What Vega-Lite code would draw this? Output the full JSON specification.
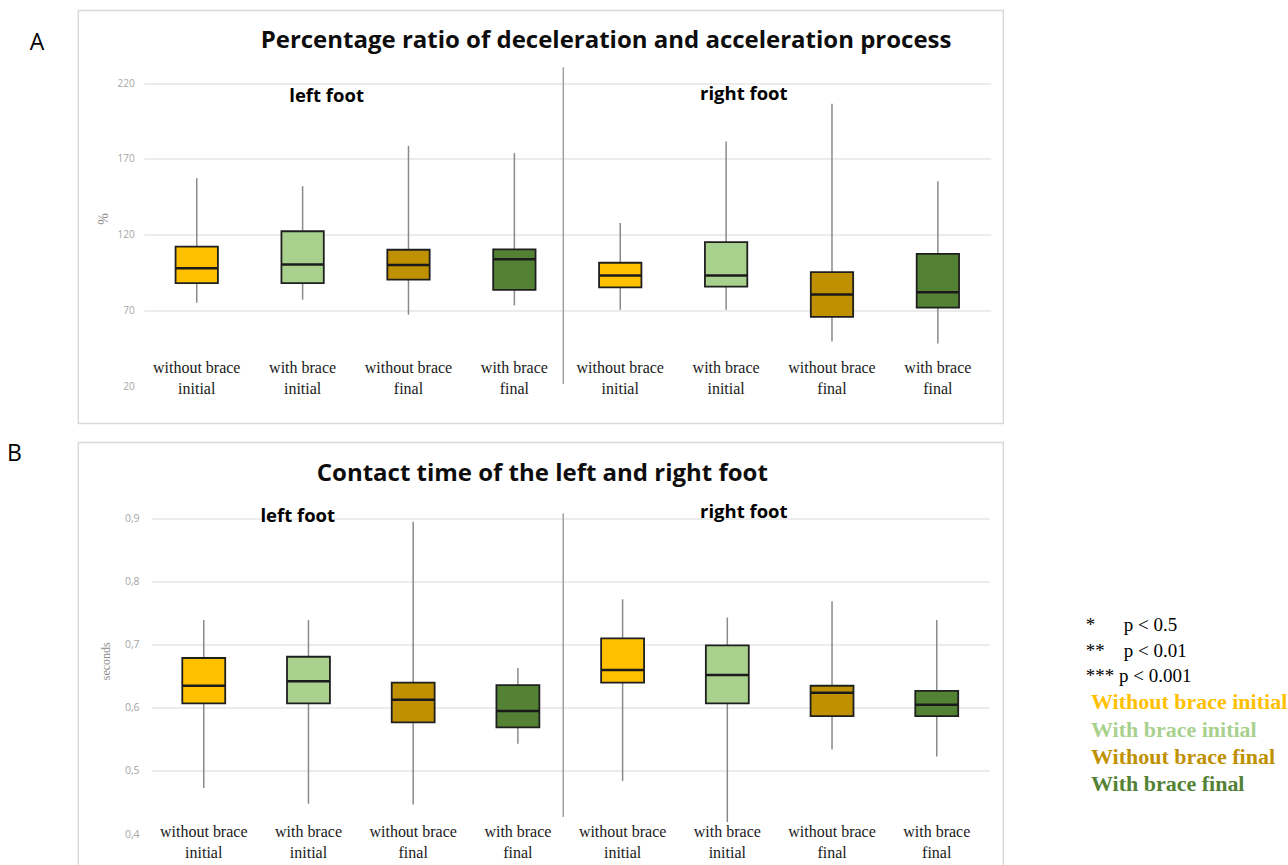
{
  "$schema": "https://vega.github.io/schema/vega-lite/v6.json",
  "background": "white",
  "padding": {"left": 6.3, "top": 9.5, "right": 0, "bottom": 0},
  "spacing": 17,
  "config": {"view": {"stroke": "#d9d9d9", "strokeWidth": 1.5}},
  "datasets": {
    "accel": [
      {"key": "L|without brace|initial", "group": "Without brace initial", "min": 75, "q1": 87.9, "median": 97.8, "q3": 112.1, "max": 157.3},
      {"key": "L|with brace|initial", "group": "With brace initial", "min": 77, "q1": 87.9, "median": 100.3, "q3": 122.2, "max": 152},
      {"key": "L|without brace|final", "group": "Without brace final", "min": 67.1, "q1": 90.2, "median": 100, "q3": 110, "max": 178.6},
      {"key": "L|with brace|final", "group": "With brace final", "min": 73.2, "q1": 83.5, "median": 103.8, "q3": 110.2, "max": 173.8},
      {"key": "R|without brace|initial", "group": "Without brace initial", "min": 70.4, "q1": 85.1, "median": 93, "q3": 101.4, "max": 127.7},
      {"key": "R|with brace|initial", "group": "With brace initial", "min": 70.4, "q1": 85.7, "median": 93, "q3": 115, "max": 181.5},
      {"key": "R|without brace|final", "group": "Without brace final", "min": 49.4, "q1": 65.7, "median": 80.4, "q3": 95.2, "max": 206.4},
      {"key": "R|with brace|final", "group": "With brace final", "min": 48, "q1": 71.8, "median": 82, "q3": 107.3, "max": 155.3}
    ],
    "contact": [
      {"key": "L|without brace|initial", "group": "Without brace initial", "min": 0.473, "q1": 0.607, "median": 0.635, "q3": 0.679, "max": 0.739},
      {"key": "L|with brace|initial", "group": "With brace initial", "min": 0.448, "q1": 0.607, "median": 0.642, "q3": 0.681, "max": 0.739},
      {"key": "L|without brace|final", "group": "Without brace final", "min": 0.447, "q1": 0.577, "median": 0.613, "q3": 0.64, "max": 0.895},
      {"key": "L|with brace|final", "group": "With brace final", "min": 0.543, "q1": 0.569, "median": 0.595, "q3": 0.636, "max": 0.663},
      {"key": "R|without brace|initial", "group": "Without brace initial", "min": 0.484, "q1": 0.64, "median": 0.66, "q3": 0.71, "max": 0.772},
      {"key": "R|with brace|initial", "group": "With brace initial", "min": 0.419, "q1": 0.607, "median": 0.652, "q3": 0.699, "max": 0.743},
      {"key": "R|without brace|final", "group": "Without brace final", "min": 0.534, "q1": 0.587, "median": 0.624, "q3": 0.635, "max": 0.769},
      {"key": "R|with brace|final", "group": "With brace final", "min": 0.523, "q1": 0.587, "median": 0.605, "q3": 0.627, "max": 0.739}
    ]
  },
  "resolve": {"scale": {"x": "independent", "y": "independent", "color": "independent"}},
  "vconcat": [
    {
      "width": 925,
      "height": 413,
      "data": {"name": "accel"},
      "layer": [
        {
          "mark": {"type": "rule", "color": "#8a8a8a", "strokeWidth": 1.5},
          "encoding": {
            "x": {
              "field": "key", "type": "nominal",
              "scale": {"domain": ["L|without brace|initial", "L|with brace|initial", "L|without brace|final", "L|with brace|final", "R|without brace|initial", "R|with brace|initial", "R|without brace|final", "R|with brace|final"], "range": [65.5, 912.5], "paddingInner": 0, "paddingOuter": 0},
              "axis": {"title": null, "domain": false, "ticks": false, "grid": false, "labelAngle": 0, "labelExpr": "slice(split(datum.value, '|'), 1)", "labelPadding": -64.3, "labelBaseline": "top", "labelFont": "Liberation Serif", "labelFontSize": 16, "labelColor": "#1a1a1a", "labelLineHeight": 21}
            },
            "y": {
              "field": "min", "type": "quantitative",
              "scale": {"domain": [20, 220], "range": [375.5, 72.7], "nice": false, "zero": false},
              "axis": {"title": "%", "values": [20, 70, 120, 170, 220], "offset": -65.5, "domain": false, "ticks": false, "labelPadding": 9.7, "labelFont": "Open Sans", "labelFontSize": 10, "labelColor": "#a6a6a6", "grid": true, "gridColor": "#d9d9d9", "gridWidth": 1, "gridOpacity": {"condition": {"test": "datum.value <= 20", "value": 0}, "value": 1}, "titleFont": "Liberation Serif", "titleFontSize": 14, "titleFontWeight": "normal", "titleColor": "#8c8c8c", "titleX": -40, "titleY": 208, "titleBaseline": "middle", "titleAngle": -90}
            },
            "y2": {"field": "max"}
          }
        },
        {
          "mark": {"type": "bar", "stroke": "#1f1f1f", "strokeWidth": 1.8, "width": {"band": 0.4}},
          "encoding": {
            "x": {"field": "key", "type": "nominal"},
            "y": {"field": "q1", "type": "quantitative"},
            "y2": {"field": "q3"},
            "color": {"field": "group", "type": "nominal", "scale": {"domain": ["Without brace initial", "With brace initial", "Without brace final", "With brace final"], "range": ["#FFC000", "#A9D18E", "#BF9000", "#548235"]}, "legend": null}
          }
        },
        {
          "mark": {"type": "tick", "color": "#1a1a1a", "thickness": 2.5, "size": 42, "opacity": 1},
          "encoding": {
            "x": {"field": "key", "type": "nominal"},
            "y": {"field": "median", "type": "quantitative"}
          }
        },
        {
          "data": {"values": [{"note": "separator"}]},
          "mark": {"type": "rule", "color": "#a0a0a0", "strokeWidth": 1.5, "xOffset": -4},
          "encoding": {
            "x": {"datum": "R|without brace|initial", "type": "nominal", "bandPosition": 0},
            "y": {"datum": 230.6},
            "y2": {"datum": 21.3}
          }
        },
        {
          "data": {"values": [{"note": "Percentage ratio of deceleration and acceleration process"}]},
          "mark": {"type": "text", "font": "Open Sans", "fontWeight": "bold", "fontSize": 24, "color": "#0d0d0d", "baseline": "alphabetic", "align": "center", "dx": 91.7},
          "encoding": {"x": {"datum": "L|with brace|final", "type": "nominal"}, "y": {"datum": 243.4}, "text": {"field": "note"}}
        },
        {
          "data": {"values": [{"note": "left foot"}]},
          "mark": {"type": "text", "font": "Open Sans", "fontWeight": "bold", "fontSize": 18.5, "color": "#000000", "baseline": "alphabetic", "align": "center", "dx": 24},
          "encoding": {"x": {"datum": "L|with brace|initial", "type": "nominal"}, "y": {"datum": 207.5}, "text": {"field": "note"}}
        },
        {
          "data": {"values": [{"note": "right foot"}]},
          "mark": {"type": "text", "font": "Open Sans", "fontWeight": "bold", "fontSize": 18.5, "color": "#000000", "baseline": "alphabetic", "align": "center", "dx": 17.7},
          "encoding": {"x": {"datum": "R|with brace|initial", "type": "nominal"}, "y": {"datum": 209}, "text": {"field": "note"}}
        },
        {
          "data": {"values": [{"note": "A"}]},
          "mark": {"type": "text", "font": "Open Sans", "fontSize": 23, "color": "#000000", "baseline": "top", "align": "left", "dx": -166.9},
          "encoding": {"x": {"datum": "L|without brace|initial", "type": "nominal"}, "y": {"datum": 254}, "text": {"field": "note"}}
        }
      ]
    },
    {
      "width": 925,
      "height": 430,
      "data": {"name": "contact"},
      "layer": [
        {
          "mark": {"type": "rule", "color": "#8a8a8a", "strokeWidth": 1.5},
          "encoding": {
            "x": {
              "field": "key", "type": "nominal",
              "scale": {"domain": ["L|without brace|initial", "L|with brace|initial", "L|without brace|final", "L|with brace|final", "R|without brace|initial", "R|with brace|initial", "R|without brace|final", "R|with brace|final"], "range": [73.1, 910.8], "paddingInner": 0, "paddingOuter": 0},
              "axis": {"title": null, "domain": false, "ticks": false, "grid": false, "labelAngle": 0, "labelExpr": "slice(split(datum.value, '|'), 1)", "labelPadding": -49.4, "labelBaseline": "top", "labelFont": "Liberation Serif", "labelFontSize": 16, "labelColor": "#1a1a1a", "labelLineHeight": 21}
            },
            "y": {
              "field": "min", "type": "quantitative",
              "scale": {"domain": [0.4, 0.9], "range": [391.6, 76], "nice": false, "zero": false},
              "axis": {"title": "seconds", "values": [0.4, 0.5, 0.6, 0.7, 0.8, 0.9], "labelExpr": "replace(format(datum.value, '.1f'), '.', ',')", "offset": -73.1, "domain": false, "ticks": false, "labelPadding": 12.3, "labelFont": "Open Sans", "labelFontSize": 10.5, "labelColor": "#a6a6a6", "grid": true, "gridColor": "#d9d9d9", "gridWidth": 1, "gridOpacity": {"condition": {"test": "datum.value < 0.45", "value": 0}, "value": 1}, "titleFont": "Liberation Serif", "titleFontSize": 12, "titleFontWeight": "normal", "titleColor": "#8c8c8c", "titleX": -45.9, "titleY": 218.3, "titleBaseline": "middle", "titleAngle": -90}
            },
            "y2": {"field": "max"}
          }
        },
        {
          "mark": {"type": "bar", "stroke": "#1f1f1f", "strokeWidth": 1.8, "width": {"band": 0.41}},
          "encoding": {
            "x": {"field": "key", "type": "nominal"},
            "y": {"field": "q1", "type": "quantitative"},
            "y2": {"field": "q3"},
            "color": {
              "field": "group", "type": "nominal",
              "scale": {"domain": ["Without brace initial", "With brace initial", "Without brace final", "With brace final"], "range": ["#FFC000", "#A9D18E", "#BF9000", "#548235"]},
              "legend": {
                "orient": "none", "legendX": 1007.5, "legendY": 174, "padding": 0,
                "title": ["*\u00a0\u00a0\u00a0\u00a0\u00a0\u00a0p < 0.5", "**\u00a0\u00a0\u00a0\u00a0p < 0.01", "***\u00a0p < 0.001"],
                "titleFont": "Liberation Serif", "titleFontSize": 19, "titleFontWeight": "normal", "titleColor": "#000000", "titleLineHeight": 25.5, "titlePadding": 5, "titleLimit": 400, "titleBaseline": "top",
                "labelFont": "Liberation Serif", "labelFontSize": 22, "labelFontWeight": "bold", "labelLimit": 400, "labelOffset": -16.8,
                "labelColor": {"expr": "datum.value === 'Without brace initial' ? '#FFC000' : datum.value === 'With brace initial' ? '#A9D18E' : datum.value === 'Without brace final' ? '#BF9000' : '#548235'"},
                "symbolOpacity": 0, "symbolSize": 0, "symbolStrokeWidth": 0, "rowPadding": 5.2
              }
            }
          }
        },
        {
          "mark": {"type": "tick", "color": "#1a1a1a", "thickness": 2.5, "size": 43, "opacity": 1},
          "encoding": {
            "x": {"field": "key", "type": "nominal"},
            "y": {"field": "median", "type": "quantitative"}
          }
        },
        {
          "data": {"values": [{"note": "separator"}]},
          "mark": {"type": "rule", "color": "#a0a0a0", "strokeWidth": 1.5, "xOffset": -7},
          "encoding": {
            "x": {"datum": "R|without brace|initial", "type": "nominal", "bandPosition": 0},
            "y": {"datum": 0.908},
            "y2": {"datum": 0.427}
          }
        },
        {
          "data": {"values": [{"note": "Contact time of the left and right foot"}]},
          "mark": {"type": "text", "font": "Open Sans", "fontWeight": "bold", "fontSize": 24, "color": "#0d0d0d", "baseline": "alphabetic", "align": "center", "dx": 24.4},
          "encoding": {"x": {"datum": "L|with brace|final", "type": "nominal"}, "y": {"datum": 0.959}, "text": {"field": "note"}}
        },
        {
          "data": {"values": [{"note": "left foot"}]},
          "mark": {"type": "text", "font": "Open Sans", "fontWeight": "bold", "fontSize": 18.5, "color": "#000000", "baseline": "alphabetic", "align": "center", "dx": -10.7},
          "encoding": {"x": {"datum": "L|with brace|initial", "type": "nominal"}, "y": {"datum": 0.8937}, "text": {"field": "note"}}
        },
        {
          "data": {"values": [{"note": "right foot"}]},
          "mark": {"type": "text", "font": "Open Sans", "fontWeight": "bold", "fontSize": 18.5, "color": "#000000", "baseline": "alphabetic", "align": "center", "dx": 16.5},
          "encoding": {"x": {"datum": "R|with brace|initial", "type": "nominal"}, "y": {"datum": 0.901}, "text": {"field": "note"}}
        },
        {
          "data": {"values": [{"note": "B"}]},
          "mark": {"type": "text", "font": "Open Sans", "fontSize": 23, "color": "#000000", "baseline": "top", "align": "left", "dx": -196.7},
          "encoding": {"x": {"datum": "L|without brace|initial", "type": "nominal"}, "y": {"datum": 1.0204}, "text": {"field": "note"}}
        }
      ]
    }
  ]
}
